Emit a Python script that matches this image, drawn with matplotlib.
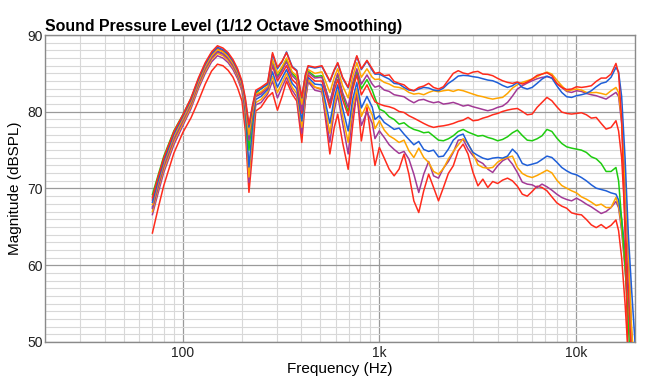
import matplotlib
matplotlib.use("Agg")
import matplotlib.pyplot as plt
from matplotlib.ticker import FixedLocator, NullFormatter

plt.rcParams['font.family'] = ['Liberation Sans', 'DejaVu Sans']

freq_lo = [70, 75, 80, 90, 100, 110, 120, 130, 140, 150, 160, 170, 180, 190, 200, 208, 217, 226, 235, 250,
           270, 286, 303, 320, 337, 360, 380, 403, 420, 434, 470, 510, 560, 590, 614, 650, 694, 730, 768, 810,
           865, 920, 950]
freq_hi = [1000, 1059, 1122, 1189, 1260, 1335, 1414, 1498, 1587, 1682, 1782, 1888, 2000, 2119, 2245, 2378,
           2520, 2670, 2828, 2997, 3175, 3364, 3564, 3775, 4000, 4238, 4490, 4757, 5040, 5339, 5657, 5993,
           6350, 6727, 7127, 7551, 8000, 8476, 8980, 9514, 10079, 10679, 11314, 11986, 12699, 13454, 14254,
           15102, 16000, 16500, 17100, 17800, 18500, 19200, 20000]

red_a_lo = [68.8, 71.6, 74.0, 77.4, 79.6, 81.8, 84.4, 86.4, 87.8, 88.6, 88.3, 87.7, 86.8, 85.6, 84.0, 81.8, 78.3, 80.8, 82.8, 83.2,
            83.8, 87.7, 85.8, 86.6, 87.7, 85.8, 85.3, 81.9, 84.8, 86.0, 85.8, 86.0, 84.0, 85.5, 86.4, 84.5, 83.2, 85.5, 87.3, 85.6,
            86.7, 85.6, 85.0]
red_a_hi = [85.13, 84.70, 84.8, 83.95, 83.7, 83.5, 82.96, 82.74, 83.17, 83.35, 83.7, 83.17, 82.96, 83.26, 84.13, 85.0,
            85.35, 85.05, 84.91, 85.17, 85.26, 84.91, 84.87, 84.7, 84.35, 84.04, 83.83, 83.7, 83.87, 83.61, 83.87, 84.26,
            84.74, 84.91, 85.09, 84.7, 83.7, 83.17, 82.9, 82.96, 83.26, 83.17, 83.26, 83.39, 83.96, 84.39, 84.39,
            84.91, 86.3, 85.0, 79.0, 64.0, 46.0, 40.0, 38.0]

blue_a_lo = [68.2, 71.1, 73.6, 77.1, 79.4, 81.6, 84.2, 86.2, 87.6, 88.4, 88.1, 87.5, 86.6, 85.4, 83.8, 81.5, 78.0, 80.6, 82.6, 83.0,
             83.6, 87.5, 85.6, 86.5, 87.8, 85.9, 85.4, 81.8, 84.7, 85.9, 85.7, 85.9, 83.9, 85.4, 86.3, 84.4, 83.1, 85.4, 87.2, 85.5,
             86.6, 85.4, 84.9]
blue_a_hi = [84.91, 84.57, 84.26, 83.7, 83.61, 83.17, 82.83, 82.74, 82.96, 83.17, 83.09, 82.83, 82.74, 83.09, 83.7, 84.13,
             84.65, 84.74, 84.7, 84.57, 84.48, 84.3, 84.13, 84.04, 83.78, 83.43, 83.17, 83.39, 83.83, 83.17, 82.96, 83.17,
             83.7, 84.26, 84.65, 84.39, 83.39, 82.52, 81.96, 81.87, 82.09, 82.22, 82.39, 82.74, 83.26, 83.7, 83.87,
             84.48, 85.78, 85.2, 82.0, 74.0, 64.0, 57.0, 50.0]

orange_a_lo = [67.9, 70.8, 73.3, 76.8, 79.1, 81.3, 83.9, 85.9, 87.3, 88.1, 87.8, 87.2, 86.3, 85.1, 83.5, 81.0, 77.0, 80.0, 82.3, 82.6,
               83.3, 86.8, 85.0, 85.9, 87.0, 85.2, 84.7, 81.0, 84.1, 85.5, 85.0, 85.2, 82.5, 84.5, 85.6, 83.4, 81.8, 84.5, 86.4, 84.5,
               85.6, 84.5, 84.2]
orange_a_hi = [84.26, 83.83, 83.61, 83.26, 83.17, 82.96, 82.52, 82.3, 82.39, 82.22, 82.52, 82.74, 82.61, 82.74, 82.83, 82.65,
               82.87, 82.74, 82.52, 82.3, 82.09, 81.96, 81.78, 81.65, 81.78, 81.87, 82.39, 83.09, 83.52, 83.83, 84.04, 84.26,
               84.57, 84.91, 85.17, 84.91, 84.13, 83.39, 82.74, 82.83, 82.96, 82.83, 82.52, 82.48, 82.52, 82.39, 82.22,
               82.74, 83.17, 82.5, 79.0, 71.0, 62.0, 52.0, 45.0]

purple_a_lo = [67.4, 70.3, 72.9, 76.4, 78.8, 81.0, 83.6, 85.6, 87.0, 87.8, 87.5, 86.9, 86.0, 84.8, 83.2, 80.6, 76.3, 79.6, 82.0, 82.3,
               83.1, 86.2, 84.4, 85.4, 86.5, 84.7, 84.1, 80.2, 83.5, 85.1, 84.4, 84.5, 81.2, 83.6, 85.0, 82.5, 80.6, 83.7, 85.6, 83.6,
               84.8, 83.6, 83.2]
purple_a_hi = [83.39, 82.83, 82.65, 82.22, 82.09, 81.96, 81.52, 81.17, 81.52, 81.61, 81.35, 81.17, 81.3, 81.0, 81.09, 81.22,
               81.0, 80.74, 80.87, 80.65, 80.48, 80.3, 80.13, 80.3, 80.57, 80.74, 81.22, 82.04, 82.96, 83.39, 83.74, 84.04,
               84.3, 84.48, 84.57, 84.39, 83.7, 83.17, 82.65, 82.52, 82.74, 82.65, 82.39, 82.22, 82.09, 81.87, 81.65,
               82.09, 82.52, 82.0, 78.5, 70.0, 61.0, 51.5, 45.0]

red_b_lo = [68.5, 71.3, 73.8, 77.2, 79.4, 81.6, 84.1, 86.1, 87.5, 88.2, 87.9, 87.3, 86.4, 85.2, 83.6, 81.0, 76.8, 79.8, 82.2, 82.5,
            83.2, 86.0, 84.0, 85.0, 86.0, 84.2, 83.6, 79.8, 83.1, 84.8, 84.0, 84.0, 80.5, 82.8, 84.2, 81.6, 79.5, 82.8, 84.8, 82.2,
            83.5, 82.0, 81.3]
red_b_hi = [81.0, 80.78, 80.65, 80.43, 80.04, 79.91, 79.48, 79.17, 78.83, 78.48, 78.17, 77.96, 78.09, 78.17, 78.3, 78.48,
            78.74, 78.91, 79.26, 78.83, 78.91, 79.17, 79.35, 79.61, 79.78, 80.04, 80.22, 80.35, 80.43, 80.04, 79.61, 79.7,
            80.57, 81.22, 81.87, 81.43, 80.65, 79.96, 79.78, 79.7, 79.78, 79.87, 79.61, 79.17, 79.26, 78.48, 77.74,
            77.96, 78.83, 77.5, 74.0, 66.0, 57.0, 48.0, 42.0]

green_a_lo = [69.2, 71.8, 74.2, 77.5, 79.6, 81.7, 84.2, 86.1, 87.5, 88.2, 87.9, 87.3, 86.4, 85.2, 83.6, 80.8, 75.0, 79.4, 82.4, 83.0,
              83.6, 86.5, 84.6, 85.6, 86.8, 85.0, 84.4, 80.6, 83.8, 85.3, 84.6, 84.7, 81.0, 83.5, 84.8, 82.2, 80.0, 83.3, 85.2, 83.0,
              84.2, 82.8, 81.8]
green_a_hi = [80.35, 80.04, 79.35, 79.0, 78.39, 78.57, 78.04, 77.7, 77.52, 77.26, 77.35, 76.83, 76.3, 76.22, 76.48, 76.87,
              77.43, 77.7, 77.35, 77.09, 76.83, 76.91, 76.65, 76.48, 76.22, 76.39, 76.74, 77.26, 77.61, 76.91, 76.3, 76.22,
              76.48, 76.87, 77.7, 77.43, 76.57, 75.87, 75.43, 75.26, 75.13, 75.0, 74.7, 74.13, 73.87, 73.26, 72.22,
              72.22, 72.74, 71.0, 66.0, 60.0, 52.0, 45.0, 40.0]

blue_b_lo = [67.6, 70.5, 73.0, 76.6, 78.9, 81.1, 83.7, 85.7, 87.1, 87.9, 87.6, 87.0, 86.1, 84.9, 83.3, 80.0, 72.8, 78.0, 81.6, 82.0,
             82.9, 85.2, 83.2, 84.4, 85.5, 83.7, 83.0, 78.8, 82.5, 84.5, 83.6, 83.5, 78.5, 81.8, 83.5, 80.5, 77.5, 81.5, 83.8, 80.5,
             82.0, 80.6, 79.0]
blue_b_hi = [79.48, 78.61, 78.17, 77.7, 77.87, 77.09, 76.39, 75.7, 76.13, 75.09, 74.83, 75.0, 74.13, 74.22, 75.13, 76.3,
             76.87, 77.09, 75.78, 74.7, 74.3, 73.96, 73.78, 73.96, 74.04, 73.96, 74.22, 75.13, 74.48, 73.26, 73.0, 73.17,
             73.35, 73.78, 74.22, 74.04, 73.43, 72.74, 72.3, 71.96, 71.78, 71.43, 71.0, 70.48, 70.04, 69.87, 69.7,
             69.43, 69.26, 68.5, 66.0, 62.0, 56.0, 51.0, 46.0]

orange_b_lo = [67.0, 70.0, 72.5, 76.1, 78.5, 80.7, 83.3, 85.3, 86.8, 87.6, 87.3, 86.7, 85.8, 84.6, 83.0, 79.5, 71.5, 77.3, 81.2, 81.6,
               82.6, 84.6, 82.5, 83.8, 85.0, 83.2, 82.4, 78.0, 82.0, 84.2, 83.2, 83.0, 77.2, 81.0, 82.8, 79.5, 76.0, 80.6, 83.0, 79.4,
               81.0, 79.6, 77.8]
orange_b_hi = [78.83, 77.61, 76.87, 76.48, 76.0, 76.3, 74.91, 74.04, 75.26, 74.04, 73.39, 72.22, 71.87, 72.61, 73.83, 74.83,
               75.69, 76.48, 75.87, 74.57, 73.09, 72.74, 72.65, 72.74, 73.43, 73.83, 74.04, 74.22, 72.74, 71.96, 71.61, 71.43,
               71.7, 72.04, 72.39, 72.04, 71.09, 70.39, 70.04, 69.7, 69.43, 68.91, 68.61, 68.22, 67.78, 67.96, 67.52,
               67.52, 68.83, 67.8, 65.0, 60.0, 55.0, 50.0, 44.0]

purple_b_lo = [66.6, 69.5, 72.1, 75.7, 78.2, 80.4, 83.0, 85.0, 86.5, 87.3, 87.0, 86.4, 85.5, 84.3, 82.7, 79.1, 70.8, 76.8, 80.9, 81.2,
               82.3, 84.0, 81.8, 83.2, 84.5, 82.8, 81.9, 77.2, 81.5, 83.9, 82.8, 82.6, 76.0, 80.2, 82.2, 78.5, 74.5, 79.6, 82.2, 78.2,
               80.0, 78.5, 76.5]
purple_b_hi = [77.52, 76.65, 75.7, 75.09, 74.57, 74.83, 73.83, 71.87, 69.48, 71.87, 73.52, 71.65, 71.35, 72.65, 73.52, 74.7,
               76.3, 76.39, 75.13, 74.26, 73.61, 73.26, 72.52, 72.09, 72.96, 73.61, 73.96, 73.17, 72.09, 70.83, 70.57, 70.48,
               70.13, 70.57, 70.22, 69.78, 69.26, 68.83, 68.57, 68.39, 68.74, 68.39, 67.96, 67.61, 67.17, 66.74, 67.0,
               67.52, 68.3, 67.5, 64.5, 59.5, 54.0, 48.5, 43.0]

red_c_lo = [64.2, 67.5, 70.4, 74.6, 77.3, 79.2, 81.4, 83.6, 85.3, 86.2, 86.0, 85.4, 84.5, 83.1, 81.4, 77.5, 69.5, 74.5, 80.1, 80.6,
            81.9, 82.5, 80.2, 82.0, 84.0, 82.3, 81.4, 76.0, 81.5, 84.0, 83.2, 82.9, 74.5, 78.0, 79.7, 76.0, 72.5, 78.0, 82.7, 76.2,
            80.6, 75.5, 73.0]
red_c_hi = [75.35, 73.96, 72.52, 71.65, 72.52, 74.48, 71.87, 68.39, 66.87, 69.7, 71.87, 70.13, 68.39, 70.13, 71.96, 72.96,
            74.91, 75.78, 74.48, 72.09, 70.35, 71.22, 70.13, 70.91, 70.65, 71.09, 71.35, 71.0, 70.3, 69.26, 69.0, 69.61,
            70.3, 70.13, 69.7, 68.91, 68.13, 67.7, 67.43, 66.83, 66.65, 66.57, 65.96, 65.26, 64.9, 65.3, 64.8,
            65.2, 65.9, 64.5, 61.0, 55.0, 48.0, 43.0, 40.0]

freq = freq_lo + freq_hi
series = [
    (red_c_lo + red_c_hi, '#ff2b1c'),
    (purple_b_lo + purple_b_hi, '#a23a96'),
    (orange_b_lo + orange_b_hi, '#ffa500'),
    (blue_b_lo + blue_b_hi, '#1f5fd8'),
    (green_a_lo + green_a_hi, '#1fcc10'),
    (red_b_lo + red_b_hi, '#ff2b1c'),
    (purple_a_lo + purple_a_hi, '#a23a96'),
    (orange_a_lo + orange_a_hi, '#ffa500'),
    (blue_a_lo + blue_a_hi, '#1f5fd8'),
    (red_a_lo + red_a_hi, '#ff2b1c'),
]

fig = plt.figure(figsize=(6.68, 3.81), dpi=100)
ax = fig.add_axes([0.0681, 0.1024, 0.8825, 0.8057])

for vals, col in series:
    assert len(vals) == len(freq), (len(vals), len(freq))
    ax.plot(freq, vals, color=col, lw=1.1, zorder=3)

ax.set_xscale('log')
ax.set_xlim(20, 20000)
ax.set_ylim(50, 90)

ax.xaxis.set_major_locator(FixedLocator([100, 1000, 10000]))
ax.set_xticklabels(['100', '1k', '10k'])
minor_x = [m * d for d in (10, 100, 1000, 10000) for m in range(2, 10) if 20 <= m * d <= 20000]
ax.xaxis.set_minor_locator(FixedLocator(minor_x))
ax.xaxis.set_minor_formatter(NullFormatter())
ax.yaxis.set_major_locator(FixedLocator([50, 60, 70, 80, 90]))
ax.yaxis.set_minor_locator(FixedLocator(list(range(50, 91))))

ax.grid(which='minor', color='#d8d8d8', lw=0.8, zorder=0)
ax.grid(which='major', color='#9a9a9a', lw=0.9, zorder=1)
ax.set_axisbelow(True)
for s in ax.spines.values():
    s.set_color('#8a8a8a')
    s.set_linewidth(1.0)
ax.tick_params(which='both', length=0, labelsize=10, colors='#222222', pad=2)
ax.tick_params(axis='x', pad=3)

ax.set_xlabel('Frequency (Hz)', fontsize=11, labelpad=1)
ax.set_ylabel('Magnitude (dBSPL)', fontsize=11, labelpad=4)
ax.set_title('Sound Pressure Level (1/12 Octave Smoothing)', fontsize=11.4, fontweight='bold',
             loc='left', pad=3)

fig.savefig('out.png', dpi=100)
